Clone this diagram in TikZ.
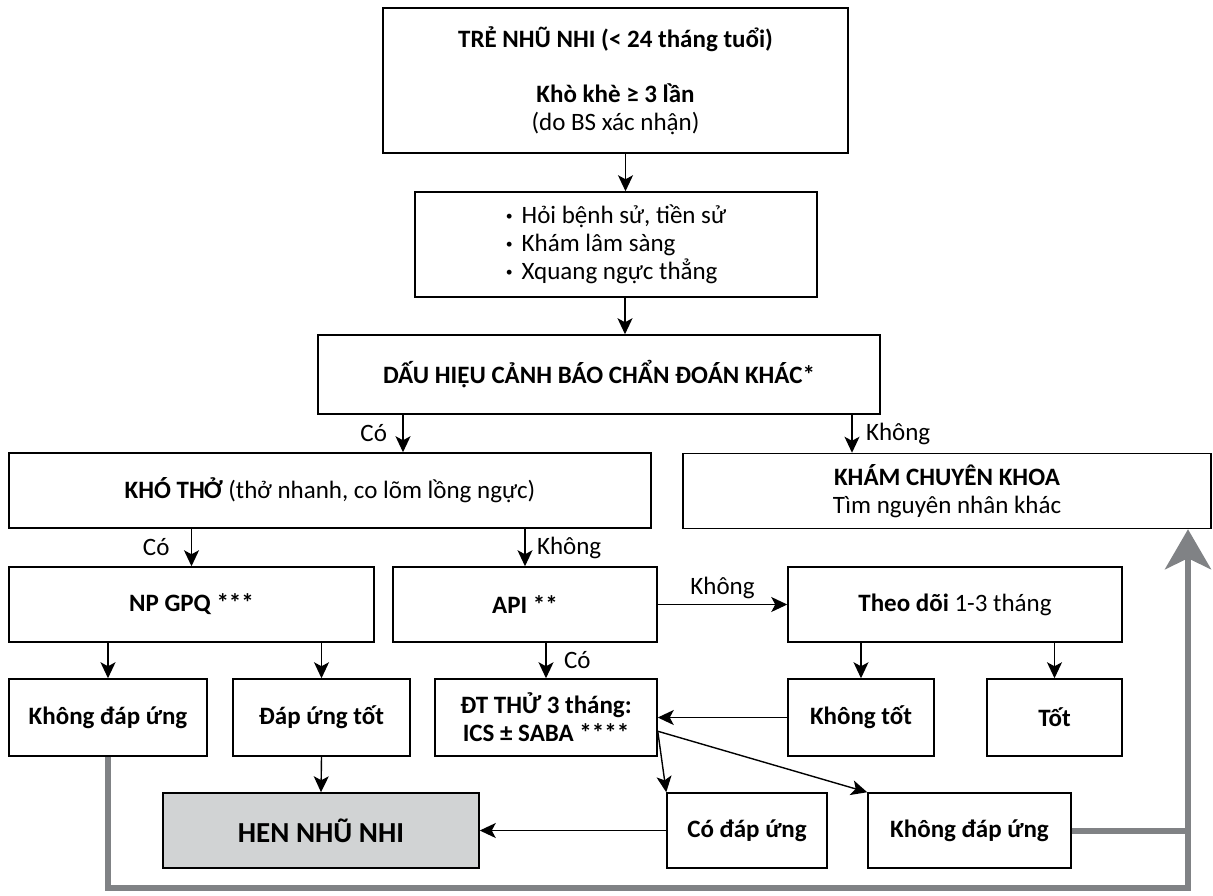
\documentclass[tikz,border=0pt]{standalone}
\usepackage{fontspec}
\setmainfont{Carlito}
\usetikzlibrary{arrows.meta}
\definecolor{vonggray}{HTML}{808285}
\definecolor{henfill}{HTML}{D1D3D4}
\newcommand\cham{\raisebox{0.3ex}{\scalebox{0.55}{•}}\hspace{9pt}}

\tikzset{
	box/.style={draw, line width=1.5pt, minimum height=75pt, align=center, inner sep=2pt},
	arr/.style={-{Stealth[length=16pt,width=15pt,inset=4pt]}, line width=1.4pt},
	vong/.style={draw=vonggray, line width=6pt, line join=miter,
		-{Stealth[length=40pt,width=46pt,inset=11pt]}},
}

\begin{document}
\begin{tikzpicture}[x=1pt, y=-1pt, font=\fontsize{25}{28}\selectfont]
	\useasboundingbox (0,0) rectangle (1213,895);
	%boxes
	\node[box, minimum width=465pt, minimum height=145pt] (tre) at (615.5,80.5)
	{\textbf{TRẺ NHŨ NHI (< 24 tháng tuổi)}\\[27pt]
		\textbf{Khò khè ≥ 3 lần}\\
		(do BS xác nhận)};
	\node[box, minimum width=402pt, minimum height=105pt, align=left] (hoi) at (616,244.5)
	{\cham Hỏi bệnh sử, tiền sử\\
		\cham Khám lâm sàng\\
		\cham Xquang ngực thẳng};
	\node[box, minimum width=562pt, minimum height=79pt] (dauhieu) at (599,374.5)
	{\textbf{DẤU HIỆU CẢNH BÁO CHẨN ĐOÁN KHÁC*}};
	\node[box, minimum width=642pt] (khotho) at (330,490.5)
	{\textbf{KHÓ THỞ} (thở nhanh, co lõm lồng ngực)};
	\node[box, minimum width=528pt] (kham) at (947,491)
	{\textbf{KHÁM CHUYÊN KHOA}\\ Tìm nguyên nhân khác};
	\node[box, minimum width=365pt] (npgpq) at (191.5,604.5) {\textbf{NP GPQ ***}};
	\node[box, minimum width=264pt] (api) at (525,604.5) {\textbf{API **}};
	\node[box, minimum width=334pt] (theodoi) at (955,604.5) {\textbf{Theo dõi} 1-3 tháng};
	\node[box, minimum width=198pt, minimum height=77pt] (kdu) at (108,717.5) {\textbf{Không đáp ứng}};
	\node[box, minimum width=177pt, minimum height=77pt] (dut) at (321.5,717.5) {\textbf{Đáp ứng tốt}};
	\node[box, minimum width=222pt, minimum height=77pt] (dtthu) at (546,717.5)
	{\textbf{ĐT THỬ 3 tháng:}\\ \textbf{ICS ± SABA ****}};
	\node[box, minimum width=146pt, minimum height=77pt] (khongtot) at (861,717.5) {\textbf{Không tốt}};
	\node[box, minimum width=135pt, minimum height=77pt] (tot) at (1054.5,717.5) {\textbf{Tốt}};
	\node[box, minimum width=316pt, fill=henfill, font=\fontsize{29}{32}\selectfont] (hen) at (321,830.5)
	{\textbf{HEN NHŨ NHI}};
	\node[box, minimum width=160pt] (coda) at (747,830.5) {\textbf{Có đáp ứng}};
	\node[box, minimum width=203pt] (kdu2) at (969.5,830.5) {\textbf{Không đáp ứng}};
	%arrows
	\draw[arr] ([xshift=10pt]tre.south) -- ([xshift=10pt]tre.south |- hoi.north);
	\draw[arr] ([xshift=9pt]hoi.south) -- ([xshift=9pt]hoi.south |- dauhieu.north);
	\draw[arr] ([xshift=-196pt]dauhieu.south) -- ([xshift=-196pt]dauhieu.south |- khotho.north)
	node[midway, left=12pt] {Có};
	\draw[arr] ([xshift=253pt]dauhieu.south) -- ([xshift=253pt]dauhieu.south |- kham.north)
	node[midway, right=10pt] {Không};
	\draw[arr] (npgpq.north |- khotho.south) -- (npgpq.north)
	node[midway, left=18pt] {Có};
	\draw[arr] (api.north |- khotho.south) -- (api.north)
	node[midway, right=8pt] {Không};
	\draw[arr] (api.east) -- (theodoi.west) node[midway, above=2pt] {Không};
	\draw[arr] (dtthu.north |- api.south) -- (dtthu.north)
	node[midway, right=14pt] {Có};
	\draw[arr] (kdu.north |- npgpq.south) -- (kdu.north);
	\draw[arr] (dut.north |- npgpq.south) -- (dut.north);
	\draw[arr] (khongtot.north |- theodoi.south) -- (khongtot.north);
	\draw[arr] (tot.north |- theodoi.south) -- (tot.north);
	\draw[arr] (khongtot.west) -- (dtthu.east);
	\draw[arr] (dut.south) -- (hen.north);
	\draw[arr] (dtthu.-7) -- (coda.north west);
	\draw[arr] (dtthu.-7) -- (kdu2.north west);
	\draw[arr] (coda.west) -- (hen.east);
	%loop back
	\coordinate (goc) at (1188,888);
	\draw[vong] (kdu.south) |- (goc) -- (goc |- kham.south);
	\draw[draw=vonggray, line width=6pt] (kdu2.east) -- (kdu2.east -| goc);
\end{tikzpicture}
\end{document}
